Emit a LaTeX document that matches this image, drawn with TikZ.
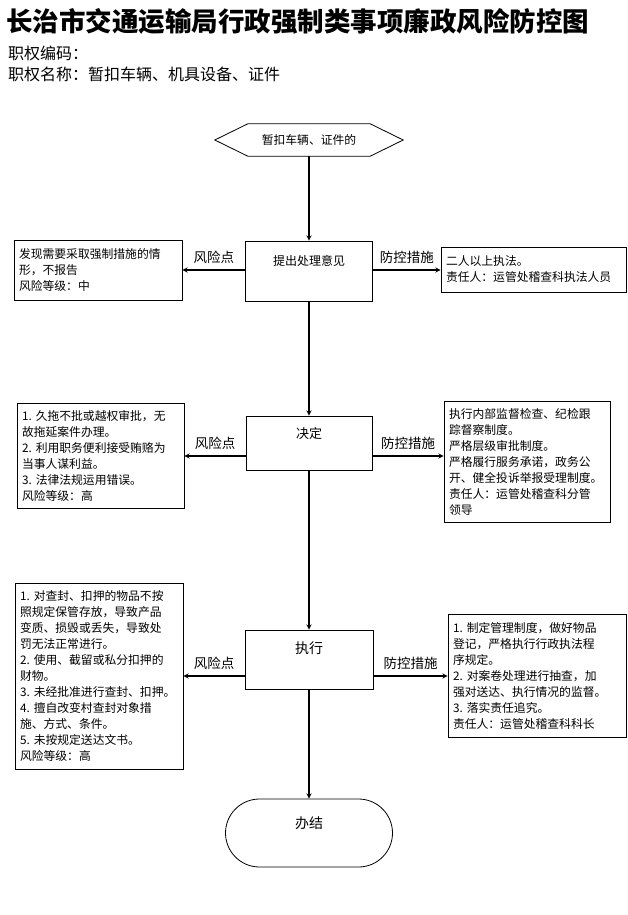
\documentclass[tikz,border=0pt]{standalone}
\usepackage{fontspec}
\setmainfont{Noto Sans CJK SC}
\usepackage{tikz}
\usetikzlibrary{calc}

\begin{document}
\begin{tikzpicture}[x=1pt,y=-1pt,>=stealth,
  box/.style={draw,line width=0.8pt,align=left,inner xsep=5pt,inner ysep=0pt,font=\fontsize{11.8}{16}\selectfont},
  stepbox/.style={draw,line width=0.8pt,inner sep=0pt},
  flow/.style={->,line width=1.3pt},
  lab/.style={font=\fontsize{13.5}{16}\selectfont,inner sep=2pt,above=4pt}]
  \useasboundingbox (0,0) rectangle (627,915);
  \fill[white] (0,0) rectangle (627,915);
  \node[anchor=west,inner sep=0pt,font=\fontsize{26.5}{30}\selectfont\bfseries] (title) at (6,21) {长治市交通运输局行政强制类事项廉政风险防控图};
  \node[anchor=west,inner sep=0pt,font=\fontsize{16}{18}\selectfont] (code) at (8,53) {职权编码：};
  \node[anchor=west,inner sep=0pt,font=\fontsize{16}{18}\selectfont] (name) at (8,74) {职权名称：暂扣车辆、机具设备、证件};

  \node[minimum width=122pt,minimum height=32pt,inner sep=0pt,font=\fontsize{11.8}{14}\selectfont] (start) at (309,140) {暂扣车辆、证件的};
  \draw[line width=0.8pt] ($(start.west)+(-33,0)$) -- (start.north west) -- (start.north east)
    -- ($(start.east)+(33,0)$) -- (start.south east) -- (start.south west) -- cycle;

  \node[stepbox,minimum width=127pt,text height=24.6pt,text depth=35.4pt,font=\fontsize{12}{14}\selectfont] (box1) at (309,271) {提出处理意见};
  \node[stepbox,minimum width=126pt,text height=22pt,text depth=32pt,font=\fontsize{13}{15}\selectfont] (box2) at (309,443) {决定};
  \node[stepbox,minimum width=128pt,text height=23.3pt,text depth=35.7pt,font=\fontsize{14}{16}\selectfont] (box3) at (309,659.5) {执行};
  \node[stepbox,rounded corners=34pt,minimum width=167pt,text height=29.3pt,text depth=38.7pt,font=\fontsize{14}{16}\selectfont] (done) at (309,833) {办结};

  \node[box,text width=158pt,minimum height=60pt] (risk1) at (98,270) {发现需要采取强制措施的情\\形，不报告\\风险等级：中};
  \node[box,text width=175pt,minimum height=45pt] (ctrl1) at (533.5,269.5) {二人以上执法。\\责任人：运管处稽查科执法人员};
  \node[box,text width=157pt,minimum height=104.5pt] (risk2) at (100.5,456) {1.~久拖不批或越权审批，无\\故拖延案件办理。\\2.~利用职务便利接受贿赂为\\当事人谋利益。\\3.~法律法规运用错误。\\风险等级：高};
  \node[box,text width=156pt,minimum height=120.5pt] (ctrl2) at (527,462) {执行内部监督检查、纪检跟\\踪督察制度。\\严格层级审批制度。\\严格履行服务承诺，政务公\\开、健全投诉举报受理制度。\\责任人：运管处稽查科分管\\领导};
  \node[box,text width=158pt,minimum height=186pt] (risk3) at (99,676) {1.~对查封、扣押的物品不按\\照规定保管存放，导致产品\\变质、损毁或丢失，导致处\\罚无法正常进行。\\2.~使用、截留或私分扣押的\\财物。\\3.~未经批准进行查封、扣押。\\4.~擅自改变村查封对象措\\施、方式、条件。\\5.~未按规定送达文书。\\风险等级：高};
  \node[box,text width=168pt,minimum height=123pt] (ctrl3) at (537,675.5) {1.~制定管理制度，做好物品\\登记，严格执行行政执法程\\序规定。\\2.~对案卷处理进行抽查，加\\强对送达、执行情况的监督。\\3.~落实责任追究。\\责任人：运管处稽查科科长};

  \draw[flow] (start) -- (box1);
  \draw[flow] (box1) -- (box2);
  \draw[flow] (box2) -- (box3);
  \draw[flow] (box3) -- (done);
  \foreach \n in {1,2,3}{
    \draw[flow] (box\n.west |- risk\n) -- node[lab] (riskl\n) {风险点} (risk\n.east);
    \draw[flow] (box\n.east |- risk\n) -- node[lab] (ctrll\n) {防控措施} (ctrl\n.west |- risk\n);
  }
\end{tikzpicture}
\end{document}
